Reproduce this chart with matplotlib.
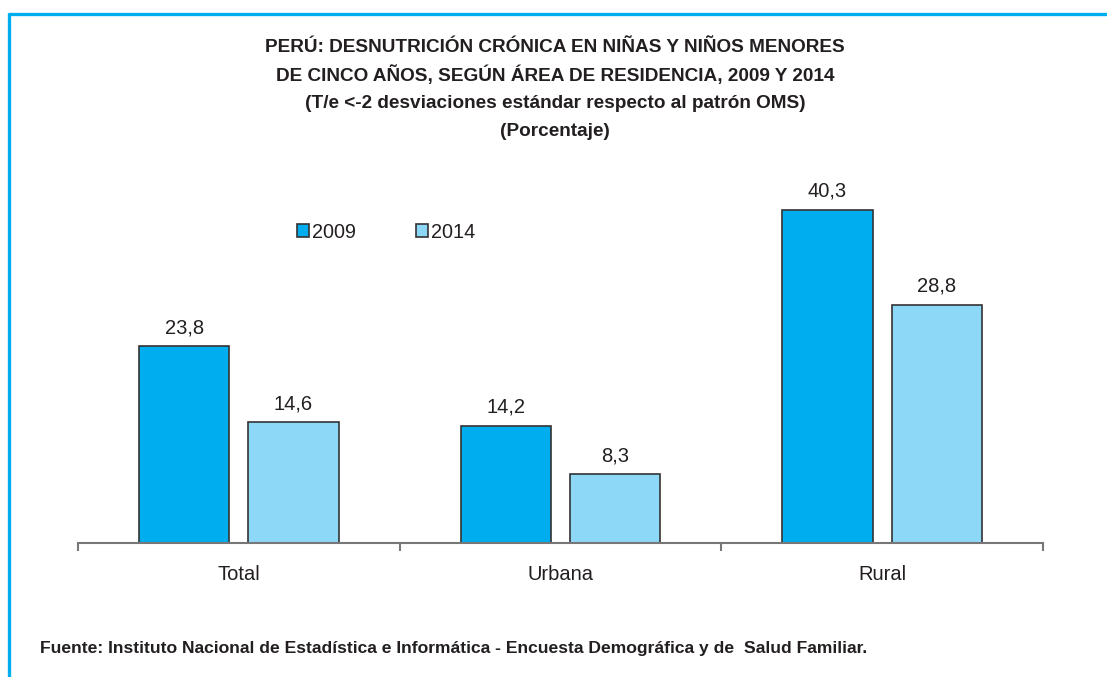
import matplotlib.pyplot as plt
from matplotlib.lines import Line2D
from matplotlib.patches import Patch

categorias = ["Total", "Urbana", "Rural"]
anios = ["2009", "2014"]
valores_2009 = [23.8, 14.2, 40.3]
valores_2014 = [14.6, 8.3, 28.8]

titulo = ["PERÚ: DESNUTRICIÓN CRÓNICA EN NIÑAS Y NIÑOS MENORES",
          "DE CINCO AÑOS, SEGÚN ÁREA DE RESIDENCIA, 2009 Y 2014",
          "(T/e <-2 desviaciones estándar respecto al patrón OMS)",
          "(Porcentaje)"]
fuente = "Fuente: Instituto Nacional de Estadística e Informática - Encuesta Demográfica y de  Salud Familiar."

azul = "#00AEEF"
celeste = "#8ED8F7"
texto = "#231F20"

plt.rcParams["font.family"] = ["Liberation Sans", "DejaVu Sans"]

W, H = 1107, 677
fig = plt.figure(figsize=(W / 100, H / 100), dpi=100)

# marco azul
fig.add_artist(Line2D([8 / W, 1], [1 - 13.5 / H, 1 - 13.5 / H], color=azul, lw=2.4,
                      solid_capstyle="butt"))
fig.add_artist(Line2D([8.5 / W, 8.5 / W], [0, 1 - 12.5 / H], color=azul, lw=2.4,
                      solid_capstyle="butt"))

ax = fig.add_axes([78 / W, 134 / H, 965 / W, (543 - 179.5) / H])
x = range(len(categorias))
ancho = 0.28
desp = 0.17
b1 = ax.bar([i - desp for i in x], valores_2009, ancho, color=azul, edgecolor="#333333", lw=1.2)
b2 = ax.bar([i + desp for i in x], valores_2014, ancho, color=celeste, edgecolor="#333333", lw=1.2)

for barras in (b1, b2):
    for b in barras:
        ax.text(b.get_x() + b.get_width() / 2, b.get_height() + 1.1,
                f"{b.get_height():.1f}".replace(".", ","),
                ha="center", va="bottom", fontsize=14.5, color=texto)

ax.set_xlim(-0.5, 2.5)
ax.set_ylim(0, 44)
for s in ["top", "right", "left"]:
    ax.spines[s].set_visible(False)
ax.spines["bottom"].set_color("#777777")
ax.spines["bottom"].set_linewidth(1.5)
ax.set_yticks([])
ax.set_xticks([-0.5, 0.5, 1.5, 2.5])
ax.set_xticklabels([])
ax.tick_params(axis="x", which="major", length=6, width=1.5, color="#777777")
ax.set_xticks(list(x), minor=True)
ax.set_xticklabels(categorias, minor=True, fontsize=14.5, color=texto)
ax.tick_params(axis="x", which="minor", length=0, pad=15.5)

handles = [Patch(facecolor=azul, edgecolor="#333333", lw=1.2),
           Patch(facecolor=celeste, edgecolor="#333333", lw=1.2)]
fig.legend(handles, anios, loc="center left", bbox_to_anchor=(279 / W, 1 - 232 / H),
           ncol=2, frameon=False, fontsize=14.3, handlelength=0.6, handleheight=0.6,
           handletextpad=0.15, columnspacing=3.05, labelcolor=texto)

for j, linea in enumerate(titulo):
    fig.text(555 / W, 1 - (47 + 28 * j) / H, linea, ha="center", va="center",
             fontsize=13.7, fontweight="bold", color=texto)
fig.text(40 / W, 1 - 648 / H, fuente, ha="left", va="center", fontsize=12.6,
         fontweight="bold", color=texto)

fig.savefig("out.png", dpi=100)
